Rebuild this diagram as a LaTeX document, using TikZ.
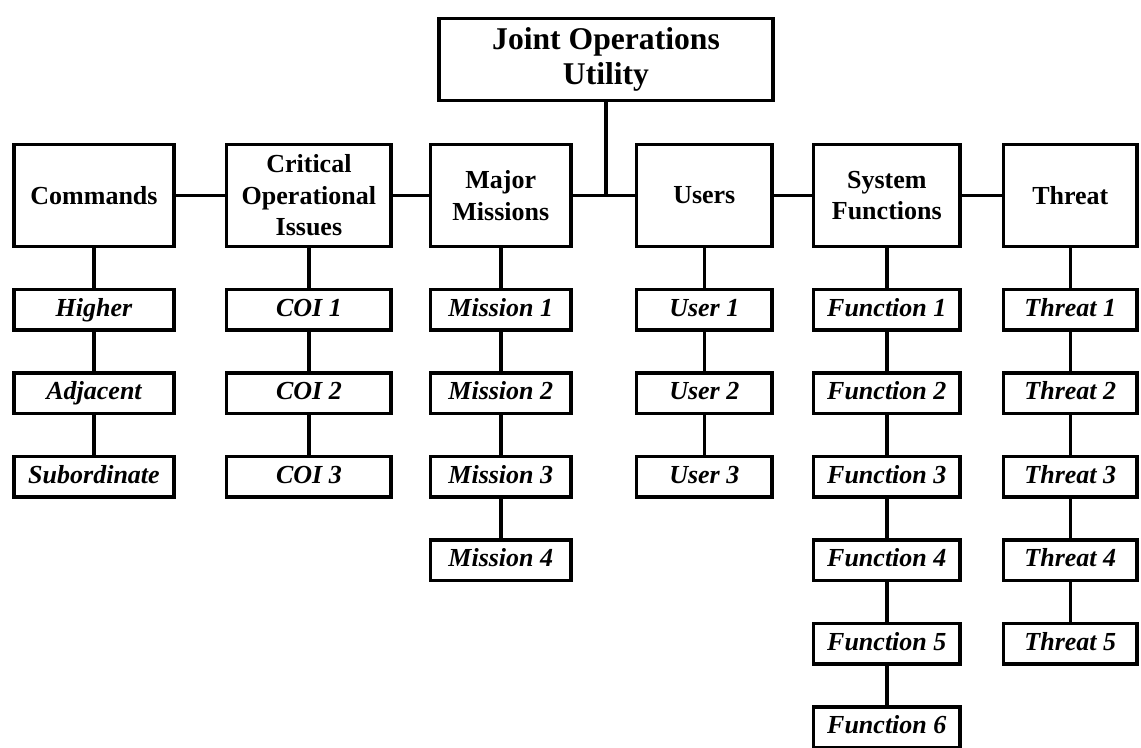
\documentclass[tikz,border=0pt]{standalone}
\usepackage{fontspec}
\setmainfont{Liberation Serif}
\usetikzlibrary{positioning}
\newcommand{\prevbox}[1]{%
	\pgfmathtruncatemacro{\pv}{#1-1}}

\begin{document}
\begin{tikzpicture}[line width=2.5pt,
	head/.style={draw=black,align=center,minimum height=2.54cm,inner sep=2pt,outer sep=0pt,font=\fontsize{18.5}{22.5}\selectfont\bfseries},
	item/.style={draw=black,minimum height=1.0125cm,minimum width=#1,inner sep=2pt,outer sep=0pt,text height=12.4pt,text depth=2.8pt,font=\fontsize{18.5}{22.5}\selectfont\bfseries\itshape}]
		\useasboundingbox (0,0) rectangle (28.525,-18.675);
		
		\node[draw=black,align=center,minimum width=8.36cm,minimum height=2.04cm,outer sep=0pt,font=\fontsize{22.5}{25}\selectfont\bfseries] (jou) at (15.15,-1.4875) {Joint Operations\\Utility};
		
		\node[head,minimum width=4.01cm] (com) at (2.35,-4.8875) {Commands};
		\node[head,minimum width=4.11cm,right=1.3125cm of com] (coi) {Critical\\Operational\\Issues};
		\node[head,minimum width=3.51cm,right=0.9875cm of coi] (mis) {Major\\Missions};
		\node[head,minimum width=3.39cm,right=1.6375cm of mis] (usr) {Users};
		\node[head,minimum width=3.66cm,right=1.0375cm of usr] (fun) {System\\Functions};
		\node[head,minimum width=3.34cm,right=1.0875cm of fun] (thr) {Threat};
		
		\draw (com)--(coi)--(mis)--(usr)--(fun)--(thr);
		\draw (jou.south)--(jou.south |- mis.east);
		
		% commands
		\node[item=4.01cm,below=1.075cm of com] (com1) {Higher};
		\node[item=4.01cm,below=1.075cm of com1] (com2) {Adjacent};
		\node[item=4.01cm,below=1.075cm of com2] (com3) {Subordinate};
		\draw (com)--(com1)--(com2)--(com3);
		
		% issues
		\node[item=4.11cm,below=1.075cm of coi] (coi1) {COI 1};
		\draw (coi)--(coi1);
		\foreach \idi in {2,3}{%
			\prevbox{\idi}
			\node[item=4.11cm,below=1.075cm of coi\pv] (coi\idi) {COI \idi};
			\draw (coi\pv)--(coi\idi);
		}
		
		% missions
		\node[item=3.51cm,below=1.075cm of mis] (mis1) {Mission 1};
		\draw (mis)--(mis1);
		\foreach \idi in {2,...,4}{%
			\prevbox{\idi}
			\node[item=3.51cm,below=1.075cm of mis\pv] (mis\idi) {Mission \idi};
			\draw (mis\pv)--(mis\idi);
		}
		
		% users
		\node[item=3.39cm,below=1.075cm of usr] (usr1) {User 1};
		\draw (usr)--(usr1);
		\foreach \idi in {2,3}{%
			\prevbox{\idi}
			\node[item=3.39cm,below=1.075cm of usr\pv] (usr\idi) {User \idi};
			\draw (usr\pv)--(usr\idi);
		}
		
		% functions
		\node[item=3.66cm,below=1.075cm of fun] (fun1) {Function 1};
		\draw (fun)--(fun1);
		\foreach \idi in {2,...,6}{%
			\prevbox{\idi}
			\node[item=3.66cm,below=1.075cm of fun\pv] (fun\idi) {Function \idi};
			\draw (fun\pv)--(fun\idi);
		}
		
		% threats
		\node[item=3.34cm,below=1.075cm of thr] (thr1) {Threat 1};
		\draw (thr)--(thr1);
		\foreach \idi in {2,...,5}{%
			\prevbox{\idi}
			\node[item=3.34cm,below=1.075cm of thr\pv] (thr\idi) {Threat \idi};
			\draw (thr\pv)--(thr\idi);
		}
	\end{tikzpicture}
\end{document}
